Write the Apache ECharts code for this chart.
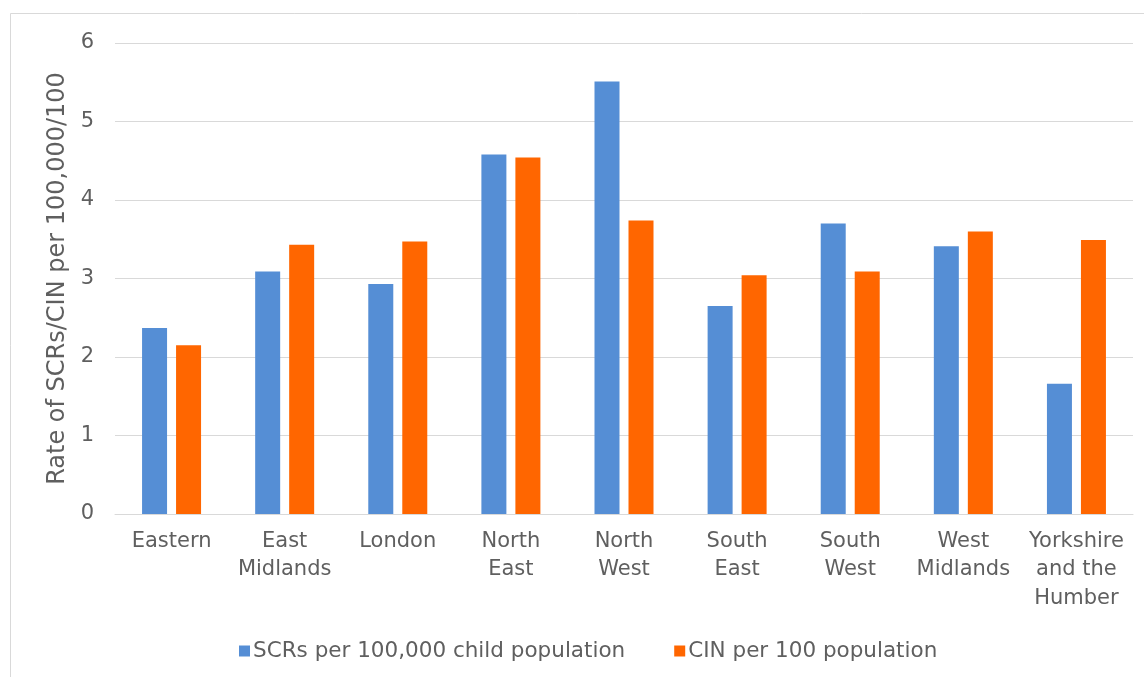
<!DOCTYPE html>
<html>
<head>
<meta charset="utf-8">
<title>SCRs and CIN rates by region</title>
<script src="https://cdn.jsdelivr.net/npm/echarts@6/dist/echarts.min.js"></script>
<style>
  html, body { margin: 0; padding: 0; background: #ffffff; }
  #chart { width: 1144px; height: 677px; }
</style>
</head>
<body>
<div id="chart"></div>
<script>
// Regions (x-axis categories); line breaks follow the wrapped labels
const regions = [
  'Eastern', 'East\nMidlands', 'London', 'North\nEast', 'North\nWest',
  'South\nEast', 'South\nWest', 'West\nMidlands', 'Yorkshire\nand the\nHumber'
];

// SCRs per 100,000 child population
const scrRates = [2.37, 3.09, 2.93, 4.58, 5.51, 2.65, 3.70, 3.41, 1.66];

// CIN per 100 population
const cinRates = [2.15, 3.43, 3.47, 4.54, 3.74, 3.04, 3.09, 3.60, 3.49];

const seriesNames = ['SCRs per 100,000 child population', 'CIN per 100 population'];
const yTitle = 'Rate of SCRs/CIN per 100,000/100';

const textColor = '#5f5f5f';
const fontFamily = '"DejaVu Sans", "Liberation Sans", sans-serif';

const chart = echarts.init(document.getElementById('chart'), null, { renderer: 'canvas' });

chart.setOption({
  animation: false,
  backgroundColor: '#ffffff',
  graphic: [{
    type: 'rect',
    shape: { x: 10.5, y: 13.5, width: 1200, height: 700 },
    style: { fill: 'none', stroke: '#d9d9d9', lineWidth: 1 },
    silent: true
  }],
  grid: { left: 115, right: 11, top: 43, bottom: 163 },
  legend: {
    top: 635,
    left: 234,
    itemWidth: 11,
    itemHeight: 11,
    itemGap: 49,
    icon: 'rect',
    textStyle: { color: textColor, fontSize: 21.5, fontFamily: fontFamily, padding: [0, 0, 0, -2] },
    data: seriesNames
  },
  xAxis: {
    type: 'category',
    data: regions,
    axisLine: { show: true, lineStyle: { color: '#d9d9d9', width: 1 } },
    axisTick: { show: false },
    axisLabel: {
      color: textColor,
      fontSize: 21,
      fontFamily: fontFamily,
      lineHeight: 28.5,
      margin: 13,
      interval: 0
    }
  },
  yAxis: {
    type: 'value',
    min: 0,
    max: 6,
    interval: 1,
    name: yTitle,
    nameLocation: 'middle',
    nameGap: 41,
    nameTextStyle: { color: textColor, fontSize: 24, fontFamily: fontFamily },
    axisLine: { show: false },
    axisTick: { show: false },
    axisLabel: { color: textColor, fontSize: 21, fontFamily: fontFamily, margin: 21 },
    splitLine: { lineStyle: { color: '#d9d9d9', width: 1 } }
  },
  series: [
    {
      name: seriesNames[0],
      type: 'bar',
      data: scrRates,
      barWidth: 25,
      barGap: '36%',
      itemStyle: { color: '#558ED5' }
    },
    {
      name: seriesNames[1],
      type: 'bar',
      data: cinRates,
      barWidth: 25,
      barGap: '36%',
      itemStyle: { color: '#FF6600' }
    }
  ]
});
</script>
</body>
</html>
